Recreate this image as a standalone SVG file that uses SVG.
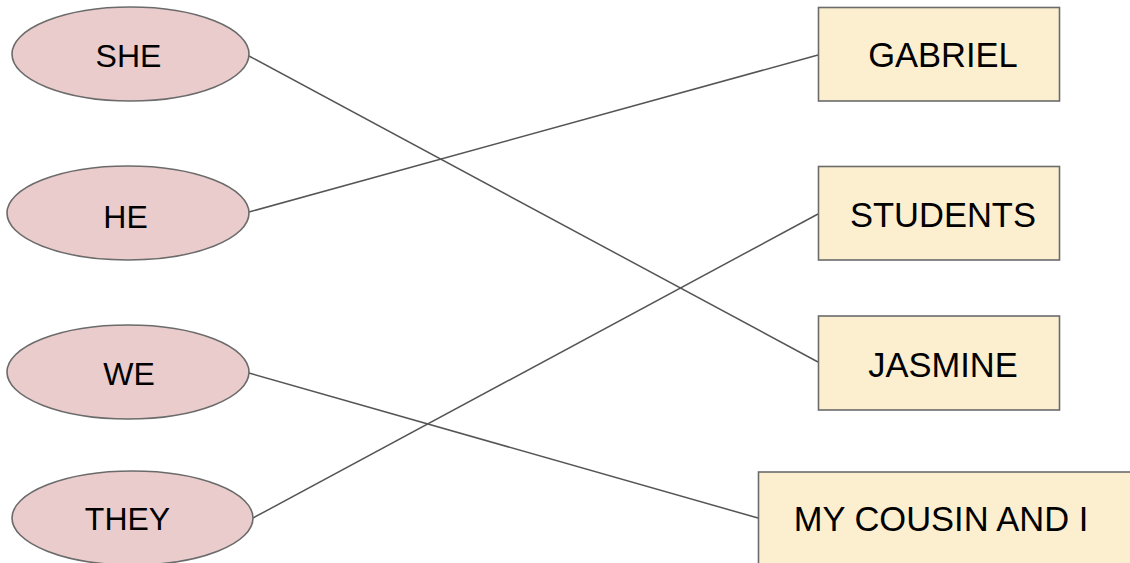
<svg xmlns="http://www.w3.org/2000/svg" width="1130" height="563" viewBox="0 0 1130 563">
<style>
.pron{fill:#eacccc;stroke:#6b6b6b;stroke-width:1.6}
.noun{fill:#fbefcf;stroke:#6b6b6b;stroke-width:1.6}
.lbl{font-family:"Liberation Sans",Arial,sans-serif;fill:#000;text-anchor:middle}
.s{font-size:32px}
.b{font-size:34.5px}
.edge{stroke:#555;stroke-width:1.5;fill:none}
</style>
<rect width="1130" height="563" fill="#fff"/>
<g id="connectors">
<line class="edge" x1="249" y1="56" x2="818" y2="362"/>
<line class="edge" x1="249" y1="212" x2="818" y2="55"/>
<line class="edge" x1="249" y1="373" x2="758" y2="518"/>
<line class="edge" x1="253" y1="518" x2="818" y2="214"/>
</g>
<g id="she"><ellipse class="pron" cx="130.5" cy="54" rx="118.5" ry="47"/><text class="lbl s" x="128.5" y="67">SHE</text></g>
<g id="he"><ellipse class="pron" cx="128" cy="213" rx="121" ry="47"/><text class="lbl s" x="125.5" y="228">HE</text></g>
<g id="we"><ellipse class="pron" cx="128" cy="372" rx="121" ry="47"/><text class="lbl s" x="129" y="385">WE</text></g>
<g id="they"><ellipse class="pron" cx="132.5" cy="518" rx="120.5" ry="47"/><text class="lbl s" x="127.5" y="530">THEY</text></g>
<g id="gabriel"><rect class="noun" x="818.5" y="7.5" width="241" height="93.5"/><text class="lbl b" x="943" y="67">GABRIEL</text></g>
<g id="students"><rect class="noun" x="818.5" y="166.5" width="241" height="93.5"/><text class="lbl b" x="943" y="227">STUDENTS</text></g>
<g id="jasmine"><rect class="noun" x="818.5" y="316" width="241" height="94"/><text class="lbl b" x="943" y="377">JASMINE</text></g>
<g id="cousin"><rect class="noun" x="758.5" y="472" width="400" height="120"/><text class="lbl b" x="941" y="531">MY COUSIN AND I</text></g>
</svg>
